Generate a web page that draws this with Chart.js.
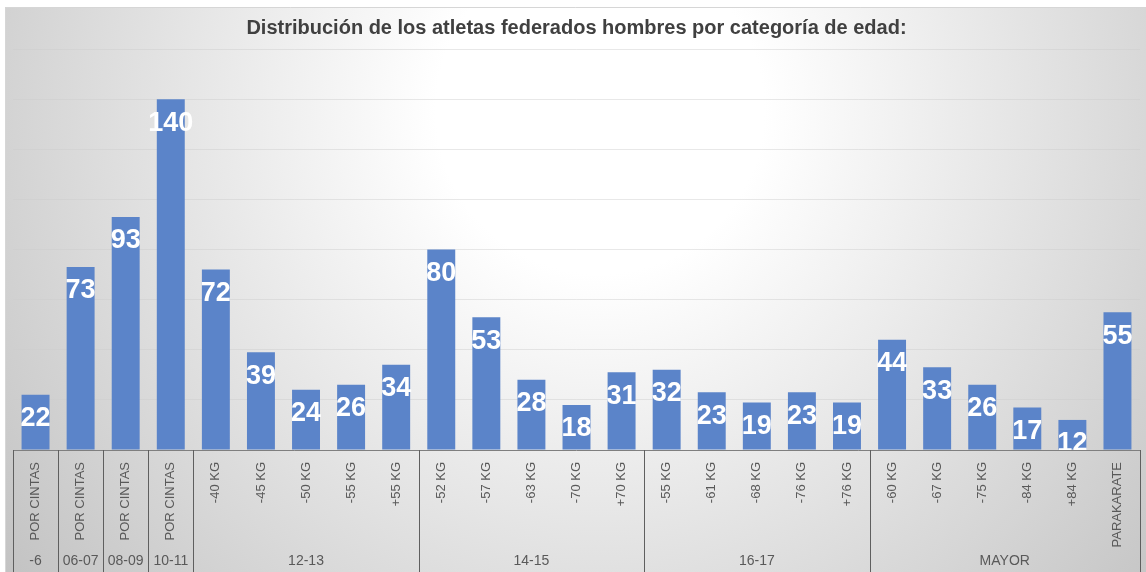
<!DOCTYPE html>
<html>
<head>
<meta charset="utf-8">
<script src="https://cdn.jsdelivr.net/npm/chart.js@4"></script>
<style>
  html, body { margin: 0; padding: 0; background: #fff; }
  #wrap { width: 1146px; height: 572px; position: relative; }
</style>
</head>
<body>
<div id="wrap"><canvas id="chart" width="1146" height="572"></canvas></div>
<script>
const titleText = "Distribución de los atletas federados hombres por categoría de edad:";

const labels = [
  "POR CINTAS", "POR CINTAS", "POR CINTAS", "POR CINTAS",
  "-40 KG", "-45 KG", "-50 KG", "-55 KG", "+55 KG",
  "-52 KG", "-57 KG", "-63 KG", "-70 KG", "+70 KG",
  "-55 KG", "-61 KG", "-68 KG", "-76 KG", "+76 KG",
  "-60 KG", "-67 KG", "-75 KG", "-84 KG", "+84 KG", "PARAKARATE"
];
const values = [22, 73, 93, 140, 72, 39, 24, 26, 34, 80, 53, 28, 18, 31, 32, 23, 19, 23, 19, 44, 33, 26, 17, 12, 55];

// groups: label, first index, last index
const groupNames = ["-6", "06-07", "08-09", "10-11", "12-13", "14-15", "16-17", "MAYOR"];
const groupStart = [0, 1, 2, 3, 4, 9, 14, 19];
const groupEnd   = [0, 1, 2, 3, 8, 13, 18, 24];

const FONT = "'Liberation Sans', Arial, sans-serif";
const BAR = "#5b84c9";

const bgPlugin = {
  id: "bg",
  beforeDraw(chart) {
    const ctx = chart.ctx;
    ctx.save();
    ctx.fillStyle = "#fff";
    ctx.fillRect(0, 0, chart.width, chart.height);
    const g = ctx.createRadialGradient(600, 110, 0, 600, 110, 820);
    g.addColorStop(0, "#ffffff");
    g.addColorStop(0.2, "#ffffff");
    g.addColorStop(1, "#bcbcbc");
    ctx.fillStyle = g;
    ctx.fillRect(5, 7, chart.width - 5, chart.height - 7);
    ctx.strokeStyle = "#d6d6d6";
    ctx.lineWidth = 1;
    ctx.beginPath();
    ctx.moveTo(5.5, chart.height);
    ctx.lineTo(5.5, 7.5);
    ctx.lineTo(chart.width, 7.5);
    ctx.stroke();
    ctx.restore();
  }
};

const axisPlugin = {
  id: "twoLevelAxis",
  afterDraw(chart) {
    const ctx = chart.ctx;
    const x = chart.scales.x;
    const area = chart.chartArea;
    const half = (x.getPixelForValue(1) - x.getPixelForValue(0)) / 2;
    const bottom = chart.height;
    ctx.save();
    // axis line
    ctx.strokeStyle = "#7f7f7f";
    ctx.lineWidth = 1;
    ctx.beginPath();
    ctx.moveTo(area.left, Math.round(area.bottom) + 0.5);
    ctx.lineTo(area.right, Math.round(area.bottom) + 0.5);
    ctx.stroke();
    // separators
    const seps = [groupStart[0]].concat(groupEnd.map(e => e + 1));
    ctx.strokeStyle = "#5f5f5f";
    for (const s of seps) {
      const px = Math.round(x.getPixelForValue(s) - half) + 0.5;
      ctx.beginPath();
      ctx.moveTo(px, area.bottom);
      ctx.lineTo(px, bottom);
      ctx.stroke();
    }
    // category labels, rotated
    ctx.fillStyle = "#595959";
    ctx.font = "13px " + FONT;
    ctx.textAlign = "right";
    ctx.textBaseline = "middle";
    labels.forEach((lab, i) => {
      const px = x.getPixelForValue(i);
      ctx.save();
      ctx.translate(px, area.bottom + 12);
      ctx.rotate(-Math.PI / 2);
      ctx.fillText(lab, 0, 0);
      ctx.restore();
    });
    // group labels
    ctx.textAlign = "center";
    ctx.font = "14px " + FONT;
    groupNames.forEach((g, i) => {
      const a = x.getPixelForValue(groupStart[i]) - half;
      const b = x.getPixelForValue(groupEnd[i]) + half;
      ctx.fillText(g, (a + b) / 2, bottom - 11);
    });
    ctx.restore();
  }
};

const valueLabels = {
  id: "valueLabels",
  afterDatasetsDraw(chart) {
    const ctx = chart.ctx;
    const meta = chart.getDatasetMeta(0);
    ctx.save();
    ctx.fillStyle = "#ffffff";
    ctx.font = "bold 27px " + FONT;
    ctx.textAlign = "center";
    ctx.textBaseline = "middle";
    meta.data.forEach((bar, i) => {
      ctx.fillText(String(values[i]), bar.x, bar.y + 24);
    });
    ctx.restore();
  }
};

new Chart(document.getElementById("chart"), {
  type: "bar",
  data: {
    labels,
    datasets: [{
      data: values,
      backgroundColor: BAR,
      categoryPercentage: 1,
      barPercentage: 0.62
    }]
  },
  options: {
    responsive: false,
    animation: false,
    layout: { padding: { left: 13, right: 6, top: 0, bottom: 0 } },
    plugins: {
      legend: { display: false },
      tooltip: { enabled: false },
      title: {
        display: true,
        text: titleText,
        color: "#404040",
        font: { family: FONT, size: 20, weight: "bold" },
        padding: { top: 16, bottom: 9 }
      }
    },
    scales: {
      x: {
        grid: { display: false },
        border: { display: false },
        ticks: { display: false },
        afterFit(s) { s.height = 122; }
      },
      y: {
        min: 0,
        max: 160,
        ticks: { display: false, stepSize: 20 },
        border: { display: false },
        grid: { color: "rgba(205,205,205,0.45)", drawTicks: false },
        afterFit(s) { s.width = 0; }
      }
    }
  },
  plugins: [bgPlugin, axisPlugin, valueLabels]
});
</script>
</body>
</html>
